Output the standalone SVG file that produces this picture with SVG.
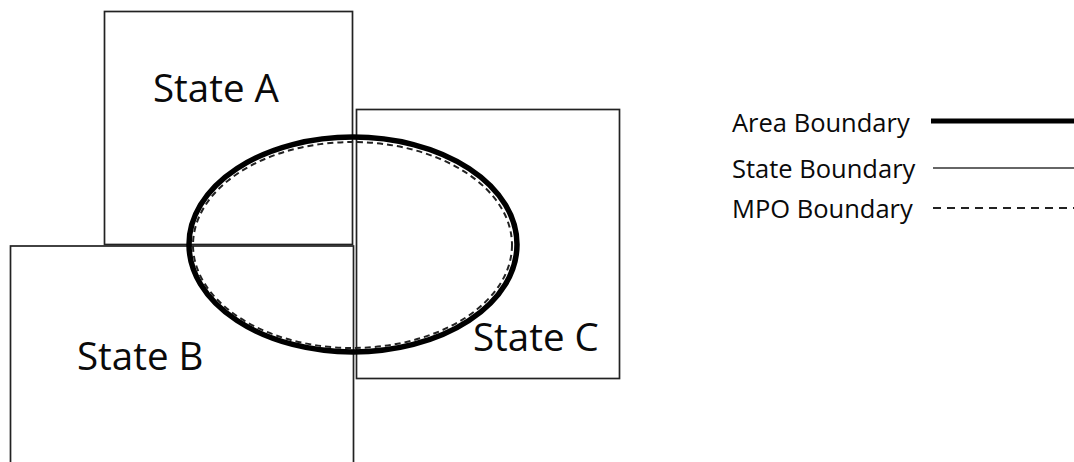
<svg xmlns="http://www.w3.org/2000/svg" width="1074" height="462" viewBox="0 0 1074 462">
<style>
.state{fill:none;stroke:#222;stroke-width:1.7}
.area{fill:none;stroke:#000;stroke-width:5.5}
.mpo{fill:none;stroke:#222;stroke-width:2;stroke-dasharray:6 4}
.lbl{font-family:"Open Sans","Noto Sans",sans-serif;font-size:38.5px;fill:#0a0a0a}
.leg{font-family:"Open Sans","Noto Sans",sans-serif;font-size:25.5px;fill:#0a0a0a}
</style>
<rect width="1074" height="462" fill="#fff"/>
<g id="stateA">
<rect class="state" x="104.5" y="11.5" width="248" height="233"/>
<text class="lbl" x="153" y="102">State A</text>
</g>
<g id="stateC">
<rect class="state" x="356.5" y="109.5" width="263" height="269"/>
<text class="lbl" x="473" y="351">State C</text>
</g>
<g id="stateB">
<rect class="state" x="10.5" y="246" width="343" height="230"/>
<text class="lbl" x="77" y="370">State B</text>
</g>
<g id="area">
<ellipse class="area" cx="353" cy="244.5" rx="164" ry="107.5"/>
</g>
<g id="mpo">
<ellipse class="mpo" cx="352.5" cy="245" rx="159.5" ry="103"/>
</g>
<g id="legend">
<text class="leg" x="732" y="132">Area Boundary</text>
<text class="leg" x="732" y="178">State Boundary</text>
<text class="leg" x="732" y="218">MPO Boundary</text>
<g id="connectors">
<line x1="931" y1="121" x2="1074" y2="121" stroke="#000" stroke-width="5"/>
<line x1="933" y1="168" x2="1074" y2="168" stroke="#333" stroke-width="1.7"/>
<line x1="933" y1="208" x2="1074" y2="208" stroke="#222" stroke-width="2" stroke-dasharray="8 6"/>
</g>
</g>
</svg>
